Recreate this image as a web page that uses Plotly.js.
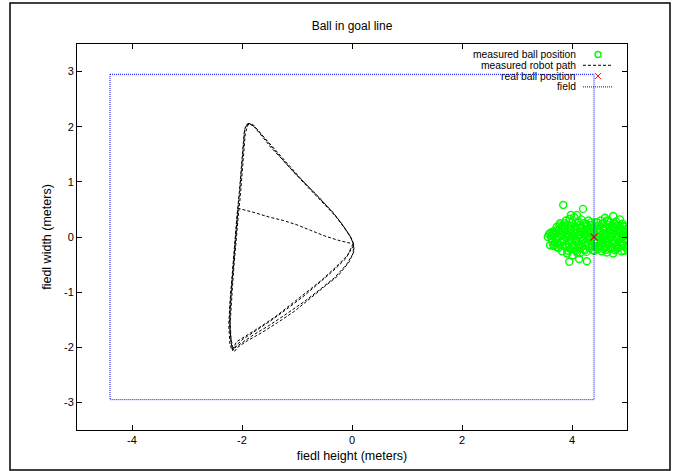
<!DOCTYPE html>
<html>
<head>
<meta charset="utf-8">
<script src="https://cdn.plot.ly/plotly-3.0.1.min.js"></script>
<style>html,body{margin:0;padding:0;background:#fff;}#plot{width:686px;height:471px;}</style>
</head>
<body>
<div id="plot"></div>
<script>
// measured ball positions (meters)
var ballX = [3.62,3.65,3.66,3.68,3.70,3.72,3.73,3.75,3.76,3.78,3.79,3.80,3.82,3.83,3.84,3.85,3.86,3.88,3.89,3.90,
  3.91,3.92,3.93,3.95,3.95,3.96,3.97,3.98,3.99,4.00,4.01,4.02,4.03,4.04,4.05,4.06,4.07,4.08,4.09,4.10,
  4.11,4.12,4.13,4.13,4.14,4.15,4.16,4.17,4.18,4.19,4.20,4.20,4.21,4.22,4.23,4.24,4.25,4.26,4.27,4.27,
  4.28,4.29,4.30,4.31,4.32,4.33,4.34,4.35,4.36,4.37,4.38,4.39,4.40,4.41,4.42,4.43,4.44,4.45,4.46,4.47,
  4.48,4.49,4.50,4.51,4.52,4.53,4.54,4.55,4.56,4.57,4.58,4.59,4.60,4.61,4.62,4.63,4.64,4.65,4.66,4.67,
  4.68,4.69,4.70,4.71,4.72,4.73,4.74,4.75,4.76,4.77,4.78,4.79,4.80,4.81,4.82,4.83,4.84,4.85,4.86,4.87,
  4.88,4.89,4.90,4.91,4.92,4.93,4.94,4.95,4.96,4.97,4.98,4.99,5.00,5.02,
  3.70,3.90,4.10,4.30,4.50,4.70,4.90,3.80,4.00,4.20,4.40,4.60,4.80,3.64,3.74,3.87,4.06,4.24,4.56,4.84,
  3.63,3.67,3.69,3.71,3.74,3.77,3.81,3.84,3.87,3.89,3.92,3.94,3.97,4.00,4.02,4.05,4.08,4.11,4.14,4.17,
  4.19,4.22,4.25,4.28,4.31,4.34,4.37,4.40,4.43,4.46,4.49,4.52,4.55,4.58,4.61,4.64,4.67,4.70,4.73,4.76,
  4.79,4.82,4.85,4.88,4.91,4.94,4.97,5.01,3.72,3.86,3.98,4.12,4.26,4.41,4.57,4.66,4.78,4.92,4.99,3.77,
  3.93,4.09,4.23,4.35,4.47,4.63,4.81,4.95,3.61,3.66,3.56,3.60,3.98,4.64,4.75,3.58];
var ballY = [0.02,-0.08,0.10,-0.15,0.05,0.18,-0.03,-0.20,0.12,0.25,-0.10,0.03,-0.26,0.20,0.58,-0.05,0.14,-0.18,0.30,0.07,
  -0.30,0.22,-0.12,-0.45,0.01,0.33,-0.22,0.15,-0.06,0.26,-0.33,0.09,-0.15,0.36,-0.02,0.19,-0.25,0.12,0.40,-0.09,
  0.28,-0.19,-0.40,0.04,0.22,-0.29,0.10,0.32,-0.12,0.17,0.51,-0.04,-0.22,0.25,0.06,-0.16,0.13,-0.27,-0.44,0.20,
  0.00,-0.10,0.30,0.08,-0.20,0.16,-0.05,0.22,-0.13,0.03,-0.24,0.12,-0.08,0.19,-0.17,0.05,0.27,-0.11,0.14,-0.22,
  0.01,0.21,-0.15,0.09,0.30,-0.06,-0.26,0.17,-0.01,0.24,-0.19,0.07,0.35,-0.10,0.15,-0.28,0.03,0.22,-0.14,0.10,
  -0.04,0.27,-0.21,0.13,0.02,-0.12,0.20,0.38,-0.07,0.16,-0.24,0.06,0.28,-0.15,0.11,-0.02,0.22,-0.19,0.08,0.32,
  -0.09,0.17,-0.26,0.04,0.24,-0.13,0.12,-0.04,0.19,-0.18,0.07,0.14,-0.08,0.05,
  -0.02,0.00,0.02,-0.02,0.00,0.01,-0.01,0.10,-0.10,0.10,0.10,-0.05,0.00,0.06,-0.12,0.09,-0.07,0.04,-0.11,0.13,
  -0.03,0.06,-0.10,0.12,0.02,-0.14,0.16,-0.08,0.21,-0.14,0.05,-0.19,0.11,0.02,-0.21,0.14,-0.06,0.09,-0.13,0.18,
  -0.17,0.02,-0.09,0.15,-0.13,0.10,-0.17,0.16,-0.04,-0.18,0.07,-0.11,0.04,0.15,-0.19,-0.08,0.18,0.06,-0.20,0.11,
  -0.10,0.19,0.02,0.14,-0.16,0.01,0.10,-0.15,-0.18,0.25,0.20,0.26,0.23,-0.25,-0.22,0.29,0.24,0.20,-0.21,0.21,
  -0.25,-0.28,-0.24,0.27,0.26,-0.23,-0.22,-0.25,0.08,-0.16,0.00,-0.15,0.40,0.30,-0.30,0.05];

// measured robot path (meters)
var pathX = [0.02,-0.08,-0.30,-0.55,-0.80,-1.10,-1.40,-1.70,-1.95,-2.10,-2.15,-2.18,-2.22,
  -2.24,-2.22,-2.19,-2.16,-2.13,-2.09,-2.05,-2.02,-1.99,-1.96,-1.93,-1.85,-1.75,
  -1.60,-1.42,-1.20,-0.97,-0.72,-0.50,-0.30,-0.13,0.00,0.03,
  0.00,-0.12,-0.35,-0.60,-0.85,-1.15,-1.45,-1.75,-1.98,-2.12,-2.17,-2.20,
  -2.23,-2.21,-2.18,-2.15,-2.12,-2.08,-2.04,-2.01,-1.98,-1.95,-1.90,-1.80,
  -1.68,-1.52,-1.32,-1.10,-0.86,-0.60,-0.40,-0.21,-0.06,0.02,
  0.04,-0.05,-0.25,-0.50,-0.75,-1.05,-1.35,-1.65,-1.90,-2.08,-2.14,-2.19,
  -2.22,-2.20,-2.17,-2.14,-2.11,-2.07,-2.03,-2.00,-1.97,-1.94,-1.88,-1.78,
  -1.63,-1.47,-1.26,-1.03,-0.78,-0.55,-0.34,-0.17,-0.03,0.03,
  0.02,-0.10,-0.32,-0.58,-0.88,-1.20,-1.50,-1.80,-2.02,-2.16,-2.20,
  -2.22,-2.20,-2.17,-2.14,-2.11,-2.07,
  -1.80,-1.50,-1.25,-1.00,-0.75,-0.50,-0.25,0.00];
var pathY = [-0.12,-0.33,-0.55,-0.78,-0.98,-1.22,-1.45,-1.65,-1.80,-1.90,-2.00,-2.05,-1.95,
  -1.60,-1.20,-0.80,-0.40,0.00,0.40,0.80,1.20,1.60,1.90,2.03,2.05,1.98,
  1.80,1.58,1.33,1.08,0.82,0.60,0.38,0.15,-0.04,-0.15,
  -0.20,-0.40,-0.62,-0.83,-1.05,-1.28,-1.50,-1.70,-1.85,-1.98,-2.06,-1.90,
  -1.55,-1.15,-0.75,-0.35,0.05,0.45,0.85,1.25,1.65,1.95,2.06,2.04,
  1.90,1.72,1.49,1.24,0.98,0.72,0.50,0.27,0.06,-0.10,
  -0.25,-0.45,-0.70,-0.90,-1.10,-1.35,-1.55,-1.74,-1.88,-2.00,-2.08,-1.98,
  -1.65,-1.25,-0.85,-0.45,-0.05,0.35,0.75,1.15,1.55,1.88,2.07,2.00,
  1.82,1.62,1.40,1.15,0.90,0.66,0.44,0.22,0.01,-0.14,
  -0.30,-0.50,-0.74,-0.95,-1.18,-1.40,-1.60,-1.78,-1.93,-2.03,-1.85,
  -1.45,-1.05,-0.65,-0.25,0.15,0.52,
  0.45,0.36,0.30,0.22,0.12,0.02,-0.06,-0.12];

// real ball position
var realX = [4.4];
var realY = [0.0];

// field boundary
var fieldX = [-4.4, 4.4, 4.4, -4.4, -4.4];
var fieldY = [2.95, 2.95, -2.95, -2.95, 2.95];

var xTicks = [-4, -2, 0, 2, 4];
var yTicks = [-3, -2, -1, 0, 1, 2, 3];

var legendNames = ['measured ball position', 'measured robot path', 'real ball position', 'field'];

var FONT = 'Liberation Sans, Arial, Helvetica, sans-serif';

var traces = [
  {x: ballX, y: ballY, type: 'scatter', mode: 'markers', name: legendNames[0],
   marker: {symbol: 'circle-open', size: 7, color: '#00ff00', line: {width: 1.4, color: '#00ff00'}}},
  {x: pathX, y: pathY, type: 'scatter', mode: 'lines', name: legendNames[1],
   line: {color: '#000000', width: 1, dash: '3px,2px'}},
  {x: realX, y: realY, type: 'scatter', mode: 'markers', name: legendNames[2],
   marker: {symbol: 'x-thin-open', size: 7, color: '#ff0000', line: {width: 1.2, color: '#ff0000'}}},
  {x: fieldX, y: fieldY, type: 'scatter', mode: 'lines', name: legendNames[3],
   line: {color: '#0000ff', width: 1, dash: '1px,1px'}}
];

// legend drawn as annotations (text right, sample on right) in paper coords
var legPx = [54.5, 65.3, 76.1, 86.9];
var legY = legPx.map(function(p){ return (430 - p) / 386; });
var annotations = legendNames.map(function(n, i){
  return {xref: 'paper', yref: 'paper', x: (577-77)/550, y: legY[i], xanchor: 'right', yanchor: 'middle',
          text: n, showarrow: false, borderpad: 0, font: {family: FONT, size: 10.3, color: '#000'}};
});
var sx0 = (583-77)/550, sx1 = (613-77)/550, sxc = (598-77)/550;
var shapes = [
  // outer frame
  {type: 'rect', xref: 'paper', yref: 'paper', x0: (10-77)/550, x1: (670-77)/550, y0: (430-470)/386, y1: (430-3)/386,
   line: {color: '#000', width: 1.5}},
  // legend samples
  {type: 'circle', xref: 'paper', yref: 'paper', x0: sxc-3/550, x1: sxc+3/550, y0: legY[0]-3/386, y1: legY[0]+3/386,
   line: {color: '#00ff00', width: 1.4}},
  {type: 'line', xref: 'paper', yref: 'paper', x0: sx0, x1: sx1, y0: legY[1], y1: legY[1],
   line: {color: '#000', width: 1, dash: '3px,2px'}},
  {type: 'line', xref: 'paper', yref: 'paper', x0: sxc-3/550, x1: sxc+3/550, y0: legY[2]-3/386, y1: legY[2]+3/386,
   line: {color: '#ff0000', width: 1}},
  {type: 'line', xref: 'paper', yref: 'paper', x0: sxc-3/550, x1: sxc+3/550, y0: legY[2]+3/386, y1: legY[2]-3/386,
   line: {color: '#ff0000', width: 1}},
  {type: 'line', xref: 'paper', yref: 'paper', x0: sx0, x1: sx1, y0: legY[3], y1: legY[3],
   line: {color: '#0000ff', width: 1, dash: '1px,1px'}}
];

var layout = {
  width: 686, height: 471,
  margin: {l: 77, r: 59, t: 44, b: 41, pad: 0},
  paper_bgcolor: '#fff', plot_bgcolor: '#fff',
  showlegend: false,
  font: {family: FONT, size: 11, color: '#000'},
  title: {text: 'Ball in goal line', x: 352/686, xanchor: 'center', y: 1 - 26/471, yanchor: 'middle', yref: 'container',
          font: {family: FONT, size: 12, color: '#000'}},
  xaxis: {range: [-5, 5], tickvals: xTicks, ticktext: xTicks.map(String), ticks: 'inside', ticklen: 5, tickcolor: '#000',
          showline: true, linecolor: '#000', linewidth: 1, mirror: 'ticks', showgrid: false, zeroline: false,
          tickfont: {family: FONT, size: 11}, automargin: false,
          title: {text: 'fiedl height (meters)', standoff: 6, font: {family: FONT, size: 12.5}}},
  yaxis: {range: [-3.5, 3.5], tickvals: yTicks, ticktext: yTicks.map(String), ticks: 'inside', ticklen: 5, tickcolor: '#000',
          showline: true, linecolor: '#000', linewidth: 1, mirror: 'ticks', showgrid: false, zeroline: false,
          tickfont: {family: FONT, size: 11}, automargin: false,
          title: {text: 'fiedl width (meters)', standoff: 9, font: {family: FONT, size: 12.5}}},
  annotations: annotations,
  shapes: shapes
};

Plotly.newPlot('plot', traces, layout, {displayModeBar: false, staticPlot: true});
</script>
</body>
</html>
